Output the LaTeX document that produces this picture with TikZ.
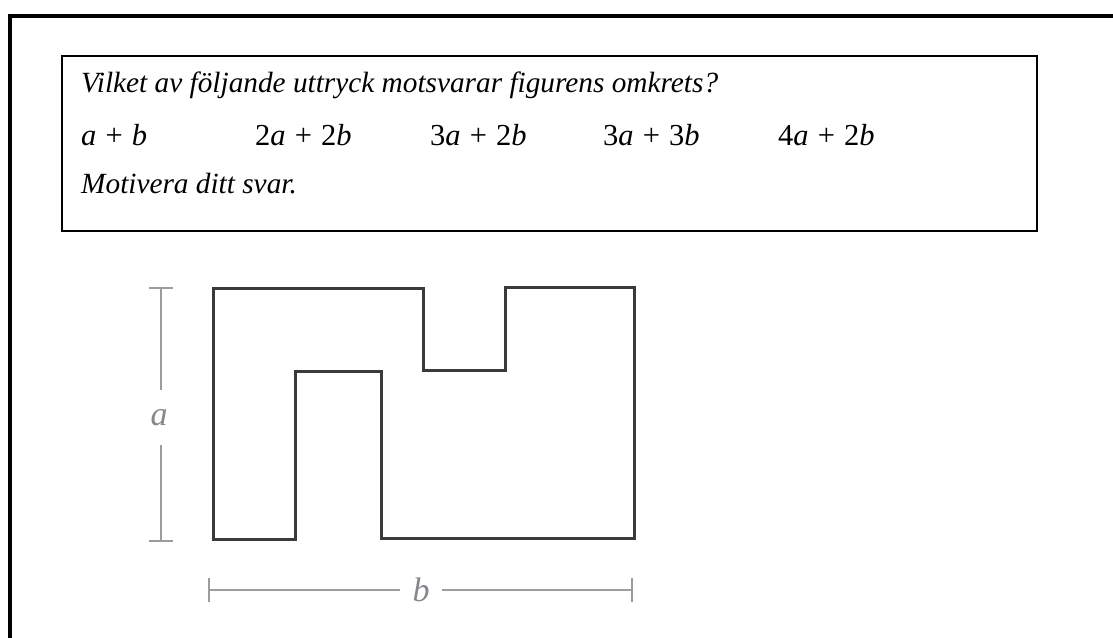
\documentclass[tikz,border=0pt]{standalone}
\usepackage{fontspec}
\setmainfont{Liberation Serif}
\definecolor{shapegray}{HTML}{3A3A3A}
\definecolor{dimgray}{HTML}{9C9C9C}
\definecolor{lblgray}{HTML}{86868C}
\newcommand{\pl}{\hspace{0.3em}+\hspace{0.3em}}
\tikzset{
  txt/.style={inner sep=0pt, anchor=base west, font=\fontsize{29.3}{35}\selectfont},
  mth/.style={inner sep=0pt, anchor=base west, font=\fontsize{30.5}{36}\selectfont},
  qbox/.style={draw=black, line width=1.5pt, inner sep=0pt, anchor=north west},
  figline/.style={draw=shapegray, line width=3pt, line join=miter},
  dimline/.style={draw=dimgray, line width=2pt},
  dimlbl/.style={inner sep=0pt, text=lblgray, font=\fontsize{34}{40}\selectfont\itshape}
}
\begin{document}
\begin{tikzpicture}[x=1pt,y=-1pt]
\useasboundingbox (0,0) rectangle (1113,637);
\clip (0,0) rectangle (1113,637);
% outer frame
\draw[line width=4pt] (10,700) -- (10,16) -- (1200,16);
% question box
\node[qbox, minimum width=975pt, minimum height=175pt] (box) at (61,55) {};
\node[txt] (q) at (81,92) {\itshape Vilket av följande uttryck motsvarar figurens omkrets?};
\node[mth] (o1) at (81,145) {\textit{a}\pl\textit{b}};
\node[mth] (o2) at (255,145) {2\textit{a}\pl2\textit{b}};
\node[mth] (o3) at (430,145) {3\textit{a}\pl2\textit{b}};
\node[mth] (o4) at (603,145) {3\textit{a}\pl3\textit{b}};
\node[mth] (o5) at (778,145) {4\textit{a}\pl2\textit{b}};
\node[txt] (mot) at (81,193) {\itshape Motivera ditt svar.};
% figure
\draw[figline] (213,288) -- (423,288) -- (423,370) -- (505,370) -- (505,287)
  -- (634,287) -- (634,538) -- (381,538) -- (381,371) -- (295,371)
  -- (295,539) -- (213,539) -- cycle;
% dimension a
\coordinate (at) at (161,288);
\coordinate (ab) at (161,541);
\node[dimlbl, minimum height=55pt, minimum width=20pt] (la) at (159,417.5) {a};
\draw[dimline] (at) -- (la.north -| at);
\draw[dimline] (la.south -| ab) -- (ab);
\draw[dimline] ([xshift=-12pt]at) -- ([xshift=12pt]at);
\draw[dimline] ([xshift=-12pt]ab) -- ([xshift=12pt]ab);
% dimension b
\coordinate (bl) at (209,590);
\coordinate (br) at (632,590);
\node[dimlbl, minimum width=42pt, minimum height=26pt] (lb) at (421,590) {b};
\draw[dimline] (bl) -- (lb.west |- bl);
\draw[dimline] (lb.east |- br) -- (br);
\draw[dimline] ([yshift=-12pt]bl) -- ([yshift=12pt]bl);
\draw[dimline] ([yshift=-12pt]br) -- ([yshift=12pt]br);
\end{tikzpicture}
\end{document}
